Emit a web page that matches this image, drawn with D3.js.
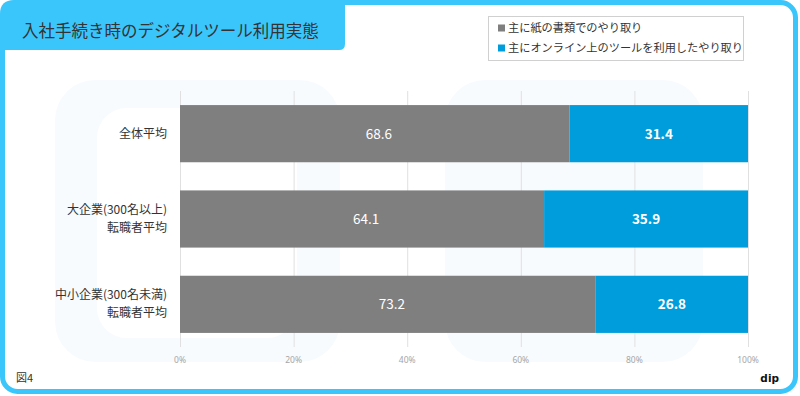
<!DOCTYPE html>
<html>
<head>
<meta charset="utf-8">
<script src="https://cdn.jsdelivr.net/npm/d3@7"></script>
<style>
  body { margin: 0; background: #fff; }
  svg { display: block; font-family: "Noto Sans CJK JP", "Noto Sans", sans-serif; }
</style>
</head>
<body>
<div id="chart"></div>
<script>
// data
const categories = [["全体平均"], ["大企業(300名以上)", "転職者平均"], ["中小企業(300名未満)", "転職者平均"]];
const seriesNames = ["主に紙の書類でのやり取り", "主にオンライン上のツールを利用したやり取り"];
const paperValues = [68.6, 64.1, 73.2];
const onlineValues = [31.4, 35.9, 26.8];
const tickValues = [0, 20, 40, 60, 80, 100];

const width = 800, height = 396;
const margin = { top: 91, right: 52, bottom: 49, left: 180 };
const colors = ["#7f7f7f", "#009ddc"];
const frameBlue = "#3bc6fb";

const svg = d3.select("#chart").append("svg")
  .attr("width", width)
  .attr("height", height)
  .attr("viewBox", `0 0 ${width} ${height}`);

// very faint logo watermark behind the plot
svg.append("rect").attr("x", 55).attr("y", 80).attr("width", 285).attr("height", 282).attr("rx", 40).attr("fill", "#f8fbfe");
svg.append("rect").attr("x", 445).attr("y", 80).attr("width", 258).attr("height", 282).attr("rx", 40).attr("fill", "#f8fbfe");
svg.append("rect").attr("x", 97).attr("y", 108).attr("width", 200).attr("height", 230).attr("rx", 30).attr("fill", "#fff");

// frame
svg.append("rect")
  .attr("x", 2.5).attr("y", 2.5)
  .attr("width", 793).attr("height", 389)
  .attr("rx", 15)
  .attr("fill", "none")
  .attr("stroke", frameBlue)
  .attr("stroke-width", 5);

// title tab
svg.append("path")
  .attr("d", "M0,14 Q0,0 14,0 H345 V44 Q345,50 339,50 H0 Z")
  .attr("fill", frameBlue);

svg.append("text")
  .attr("x", 22).attr("y", 37)
  .attr("font-size", 16.5)
  .attr("fill", "#333")
  .text("入社手続き時のデジタルツール利用実態");

// scales in page coordinates
const xScale = d3.scaleLinear().domain([0, 100]).range([margin.left, width - margin.right]);
const yScale = d3.scaleBand()
  .domain(d3.range(categories.length))
  .range([margin.top, height - margin.bottom])
  .paddingInner(0.33)
  .paddingOuter(0.165);

const plotBottom = height - margin.bottom;

// grid lines
svg.selectAll(".grid")
  .data(tickValues)
  .join("line")
  .attr("class", "grid")
  .attr("x1", d => xScale(d) + 0.5)
  .attr("x2", d => xScale(d) + 0.5)
  .attr("y1", margin.top)
  .attr("y2", plotBottom)
  .attr("stroke", "#e0e0e0")
  .attr("stroke-width", 1);

// tick labels
svg.selectAll(".tick-label")
  .data(tickValues)
  .join("text")
  .attr("class", "tick-label")
  .attr("x", d => xScale(d))
  .attr("y", plotBottom + 16)
  .attr("text-anchor", "middle")
  .attr("font-family", "'Noto Sans', sans-serif")
  .attr("font-size", 8.5)
  .attr("fill", "#a6a6a6")
  .text(d => d + "%");

// stacked bars
const rows = paperValues.map((v, i) => ({ idx: i, paper: v, online: onlineValues[i] }));
const stacked = d3.stack().keys(["paper", "online"])(rows);

stacked.forEach((series, si) => {
  svg.selectAll(`.bar-${series.key}`)
    .data(series)
    .join("rect")
    .attr("class", `bar bar-${series.key}`)
    .attr("x", d => xScale(d[0]))
    .attr("y", d => yScale(d.data.idx))
    .attr("width", d => xScale(d[1]) - xScale(d[0]))
    .attr("height", yScale.bandwidth())
    .attr("fill", colors[si]);

  svg.selectAll(`.label-${series.key}`)
    .data(series)
    .join("text")
    .attr("class", `label-${series.key}`)
    .attr("x", d => xScale((d[0] + d[1]) / 2) + (si === 0 ? 4 : 0))
    .attr("y", d => yScale(d.data.idx) + yScale.bandwidth() / 2 + 5)
    .attr("text-anchor", "middle")
    .attr("font-size", 13.5)
    .attr("font-weight", si === 0 ? "normal" : "bold")
    .attr("fill", "#fff")
    .text(d => (si === 0 ? d.data.paper : d.data.online).toFixed(1));
});

// category labels, one text per line
const lineHeight = 18;
const catLines = categories.flatMap((lines, i) => lines.map((t, j) => ({ t, i, j, n: lines.length })));
svg.selectAll(".cat")
  .data(catLines)
  .join("text")
  .attr("class", "cat")
  .attr("x", margin.left - 13)
  .attr("y", d => yScale(d.i) + yScale.bandwidth() / 2 - (d.n - 1) * lineHeight / 2 + d.j * lineHeight + 4)
  .attr("text-anchor", "end")
  .attr("font-size", 12)
  .attr("fill", "#333")
  .text(d => d.t);

// legend
const lx = 488, ly = 16;
svg.append("rect")
  .attr("x", lx + 0.5).attr("y", ly + 0.5)
  .attr("width", 255).attr("height", 44)
  .attr("fill", "#fff")
  .attr("stroke", "#d0d0d0");

seriesNames.forEach((name, i) => {
  const cy = ly + 12 + i * 20;
  svg.append("rect")
    .attr("x", lx + 10).attr("y", cy - 3.5)
    .attr("width", 7).attr("height", 7)
    .attr("fill", colors[i]);
  svg.append("text")
    .attr("x", lx + 20).attr("y", cy + 4)
    .attr("font-size", 11.2)
    .attr("fill", "#333")
    .text(name);
});

// footer
svg.append("text")
  .attr("x", 16).attr("y", 382)
  .attr("font-size", 11)
  .attr("fill", "#333")
  .text("図4");

svg.append("text")
  .attr("x", 779).attr("y", 382)
  .attr("text-anchor", "end")
  .attr("font-family", "'DejaVu Sans', sans-serif")
  .attr("font-size", 10.5)
  .attr("font-weight", "bold")
  .attr("fill", "#111")
  .text("dip");
</script>
</body>
</html>
